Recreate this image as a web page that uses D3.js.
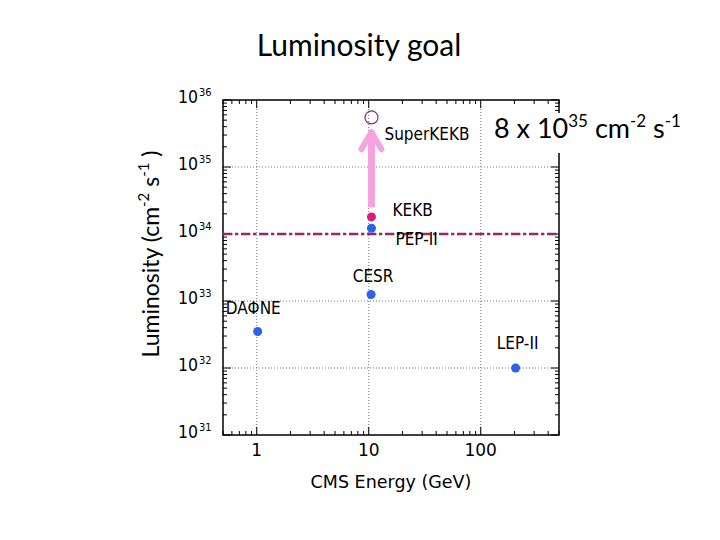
<!DOCTYPE html>
<html><head><meta charset="utf-8">
<script src="https://cdn.jsdelivr.net/npm/d3@7"></script>
<style>body{margin:0;background:#fff;}svg{display:block;}</style>
</head><body>
<svg id="c" width="720" height="540"></svg>
<script>
// ---- data ----
const names = ["DAΦNE", "CESR", "PEP-II", "KEKB", "LEP-II"];
const energies = [1.02, 10.5, 10.58, 10.58, 205];
const lumis = [3.5e32, 1.25e33, 1.22e34, 1.8e34, 1.0e32];
const colors = ["#2a63e6", "#2a63e6", "#2a63e6", "#e0187c", "#2a63e6"];
const superName = "SuperKEKB";
const superEnergy = 10.58;
const superLumi = 5.5e35;
const arrowFrom = 2.5e34;
const arrowTo = 3.3e35;
const goalLumi = 1e34;
const xTicks = [1, 10, 100];
const yTickExps = [31, 32, 33, 34, 35, 36];

const svg = d3.select("#c");
const L = 223, R = 559, T = 100, B = 435;
const x = d3.scaleLog().domain([0.5, 500]).range([L, R]);
const y = d3.scaleLog().domain([1e31, 1e36]).range([B, T]);

// title
svg.append("text").attr("x", 359).attr("y", 56).attr("text-anchor", "middle")
  .style("font-family", "Lato, 'Open Sans', sans-serif").style("font-size", "30px").text("Luminosity goal");

// gridlines
const g = svg.append("g");
g.selectAll(".gx").data(xTicks).join("line")
  .attr("x1", d => x(d)).attr("x2", d => x(d)).attr("y1", T).attr("y2", B)
  .attr("stroke", "#777").attr("stroke-width", 1).attr("stroke-dasharray", "1,2");
g.selectAll(".gy").data(yTickExps.filter(e => e > 31 && e < 36)).join("line")
  .attr("x1", L).attr("x2", R).attr("y1", e => y(Math.pow(10, e))).attr("y2", e => y(Math.pow(10, e)))
  .attr("stroke", "#777").attr("stroke-width", 1).attr("stroke-dasharray", "1,2");

// minor/major ticks on all sides
const xt = [];
for (let dec = -1; dec <= 2; dec++) for (let m = 1; m <= 9; m++) {
  const v = m * Math.pow(10, dec);
  if (v >= 0.5 && v <= 500) xt.push({v, major: m === 1});
}
const yt = [];
for (let e = 31; e <= 36; e++) for (let m = 1; m <= 9; m++) {
  const v = m * Math.pow(10, e);
  if (v <= 1e36) yt.push({v, major: m === 1});
}
const tk = svg.append("g").attr("stroke", "#000").attr("stroke-width", 1);
tk.selectAll(".xb").data(xt).join("line")
  .attr("x1", d => x(d.v)).attr("x2", d => x(d.v)).attr("y1", B).attr("y2", d => B - (d.major ? 8 : 4));
tk.selectAll(".xt").data(xt).join("line")
  .attr("x1", d => x(d.v)).attr("x2", d => x(d.v)).attr("y1", T).attr("y2", d => T + (d.major ? 8 : 4));
tk.selectAll(".yl").data(yt).join("line")
  .attr("y1", d => y(d.v)).attr("y2", d => y(d.v)).attr("x1", L).attr("x2", d => L + (d.major ? 8 : 4));
tk.selectAll(".yr").data(yt).join("line")
  .attr("y1", d => y(d.v)).attr("y2", d => y(d.v)).attr("x1", R).attr("x2", d => R - (d.major ? 8 : 4));

// frame
svg.append("rect").attr("x", L).attr("y", T).attr("width", R - L).attr("height", B - T)
  .attr("fill", "none").attr("stroke", "#000").attr("stroke-width", 1.5);

// tick labels
const tf = "'DejaVu Sans', sans-serif";
const tc = "'DejaVu Sans Condensed', 'DejaVu Sans', sans-serif";
svg.selectAll(".xl").data(xTicks).join("text")
  .attr("x", d => x(d)).attr("y", 456).attr("text-anchor", "middle")
  .style("font-family", tf).style("font-size", "17px").text(d => d);
const yl = svg.selectAll(".ylab").data(yTickExps).join("text")
  .attr("x", 178).attr("y", e => y(Math.pow(10, e)) + 3)
  .style("font-family", tc).style("font-size", "17.5px");
yl.append("tspan").text("10");
yl.append("tspan").attr("dy", -7).attr("dx", 1).style("font-size", "11px").text(e => e);

// axis titles
svg.append("text").attr("x", 391).attr("y", 488).attr("text-anchor", "middle")
  .style("font-family", tf).style("font-size", "17.5px").text("CMS Energy (GeV)");
const ylab = svg.append("text").attr("transform", "translate(159,254) rotate(-90)")
  .attr("text-anchor", "middle")
  .style("font-family", "Lato, 'Open Sans', sans-serif").style("font-size", "23px");
ylab.append("tspan").text("Luminosity (cm");
ylab.append("tspan").attr("dy", -10).style("font-size", "15px").text("-2");
ylab.append("tspan").attr("dy", 10).text(" s");
ylab.append("tspan").attr("dy", -10).style("font-size", "15px").text("-1");
ylab.append("tspan").attr("dy", 10).text(" )");

// goal line
svg.append("line").attr("x1", L).attr("x2", R).attr("y1", y(goalLumi)).attr("y2", y(goalLumi))
  .attr("stroke", "#a3226f").attr("stroke-width", 2.5).attr("stroke-dasharray", "9,3,3,3");

// arrow
const ax = x(superEnergy), ay1 = y(arrowFrom), ay2 = y(arrowTo);
svg.append("line").attr("x1", ax).attr("x2", ax).attr("y1", ay1).attr("y2", ay2 + 6)
  .attr("stroke", "#f4a3dc").attr("stroke-width", 7);
svg.append("path")
  .attr("d", `M${ax - 10},${ay2 + 17} L${ax},${ay2} L${ax + 10},${ay2 + 17}`)
  .attr("fill", "none").attr("stroke", "#f4a3dc").attr("stroke-width", 6)
  .attr("stroke-linecap", "round").attr("stroke-linejoin", "round");

// points
svg.selectAll(".pt").data(names).join("circle")
  .attr("cx", (d, i) => x(energies[i])).attr("cy", (d, i) => y(lumis[i])).attr("r", 4.5)
  .attr("fill", (d, i) => colors[i]);
svg.append("circle").attr("cx", x(superEnergy)).attr("cy", y(superLumi)).attr("r", 6.5)
  .attr("fill", "none").attr("stroke", "#8e2a78").attr("stroke-width", 1.2);

// labels
const lblOff = [[-32, -18, "start"], [2, -13, "middle"], [24, 17, "start"], [21, -1, "start"], [2, -19, "middle"]];
svg.selectAll(".lb").data(names).join("text")
  .attr("x", (d, i) => x(energies[i]) + lblOff[i][0]).attr("y", (d, i) => y(lumis[i]) + lblOff[i][1])
  .attr("text-anchor", (d, i) => lblOff[i][2])
  .style("font-family", tc).style("font-size", "17px").text(d => d);
svg.append("text").attr("x", x(superEnergy) + 13).attr("y", y(superLumi) + 23)
  .style("font-family", tc).style("font-size", "17px").text(superName);

// annotation
svg.append("rect").attr("x", 482).attr("y", 113).attr("width", 218).attr("height", 40).attr("fill", "#fff");
const an = svg.append("text").attr("x", 494).attr("y", 138)
  .style("font-family", "Lato, 'Open Sans', sans-serif").style("font-size", "27px");
an.append("tspan").text("8 x 10");
an.append("tspan").attr("dy", -11).style("font-size", "17px").text("35");
an.append("tspan").attr("dy", 11).text(" cm");
an.append("tspan").attr("dy", -11).style("font-size", "17px").text("-2");
an.append("tspan").attr("dy", 11).text(" s");
an.append("tspan").attr("dy", -11).style("font-size", "17px").text("-1");
</script>
</body></html>
